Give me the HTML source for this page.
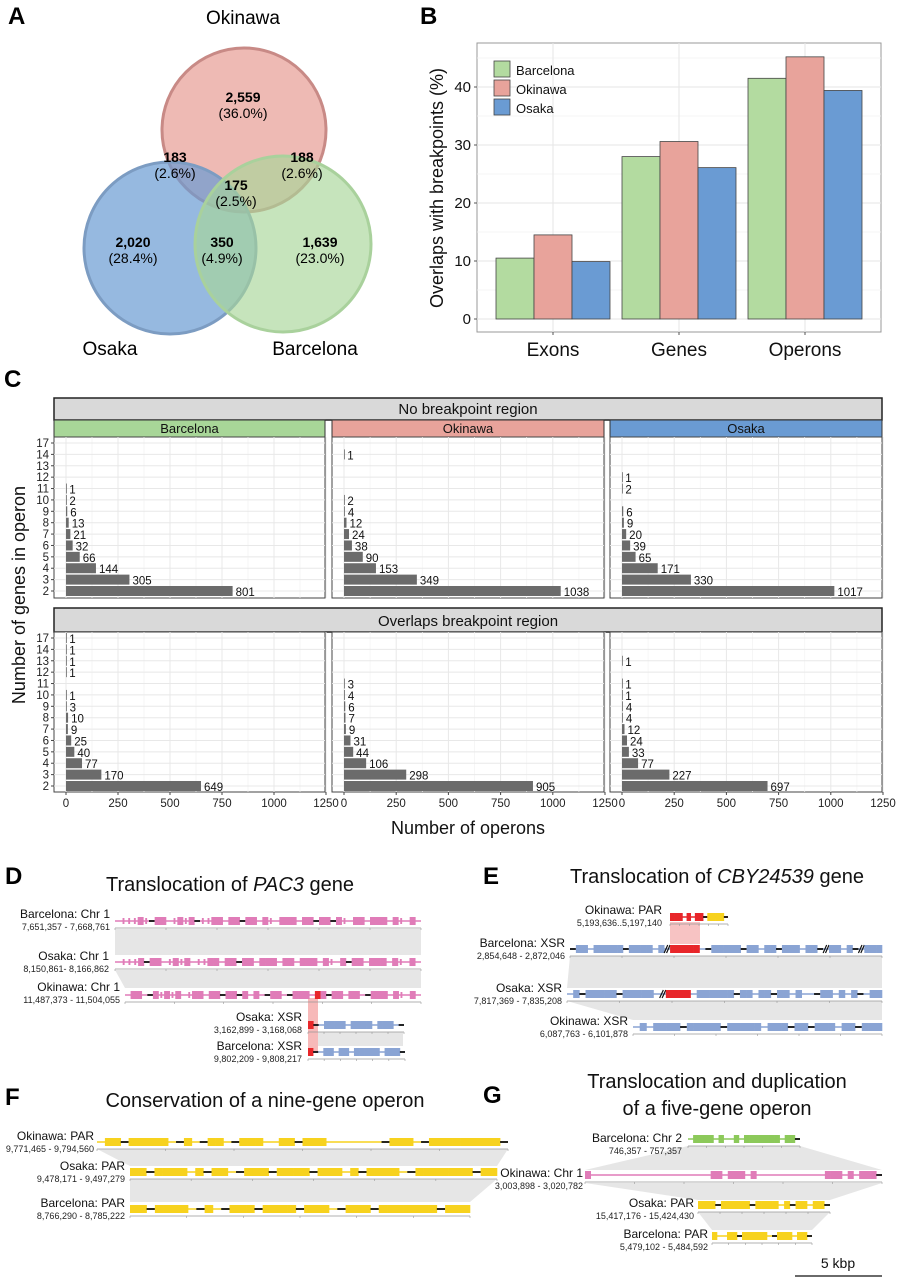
<!DOCTYPE html>
<html><head><meta charset="utf-8"><style>
body{margin:0;background:#fff}
svg{display:block;font-family:"Liberation Sans",Arial,sans-serif}
</style></head><body>
<svg id="fig" width="897" height="1280" viewBox="0 0 897 1280" xmlns="http://www.w3.org/2000/svg">
<!-- Panel A -->
<g>
<text x="8" y="24" font-size="24" font-weight="bold">A</text>
<circle cx="244" cy="130" r="82" fill="#e8a39b" fill-opacity="0.75" stroke="#c88a86" stroke-width="3"/>
<circle cx="170" cy="248" r="86" fill="#6a9bd3" fill-opacity="0.7" stroke="#7c9cc2" stroke-width="3"/>
<circle cx="283" cy="244" r="88" fill="#a8d698" fill-opacity="0.65" stroke="#a9d19c" stroke-width="3"/>
<text x="243" y="24" font-size="19" text-anchor="middle">Okinawa</text>
<text x="110" y="355" font-size="19" text-anchor="middle">Osaka</text>
<text x="315" y="355" font-size="19" text-anchor="middle">Barcelona</text>
<g font-size="14" text-anchor="middle">
<text x="243" y="102" font-weight="bold">2,559</text><text x="243" y="118">(36.0%)</text>
<text x="175" y="162" font-weight="bold">183</text><text x="175" y="178">(2.6%)</text>
<text x="302" y="162" font-weight="bold">188</text><text x="302" y="178">(2.6%)</text>
<text x="236" y="190" font-weight="bold">175</text><text x="236" y="206">(2.5%)</text>
<text x="133" y="247" font-weight="bold">2,020</text><text x="133" y="263">(28.4%)</text>
<text x="222" y="247" font-weight="bold">350</text><text x="222" y="263">(4.9%)</text>
<text x="320" y="247" font-weight="bold">1,639</text><text x="320" y="263">(23.0%)</text>
</g>
</g>
<text x="420" y="24" font-size="24" font-weight="bold">B</text>
<g id="pb"></g>
<text x="4" y="387" font-size="24" font-weight="bold">C</text>
<g id="pc"></g>
<g id="genomes"></g>
</svg>
<script>
const NS="http://www.w3.org/2000/svg";
function el(parent,tag,attrs,txt){const e=document.createElementNS(NS,tag);for(const k in attrs)e.setAttribute(k,attrs[k]);if(txt!==undefined)e.textContent=txt;parent.appendChild(e);return e;}

// ---------- Panel B data ----------
const bCategories=["Exons","Genes","Operons"];
const bSeries=["Barcelona","Okinawa","Osaka"];
const bBarcelona=[10.5,28.0,41.5];
const bOkinawa=[14.5,30.6,45.2];
const bOsaka=[9.9,26.1,39.4];
const bTicks=[0,10,20,30,40];
const bColors=["#b3dba0","#e8a39b","#6a9bd3"];

(function(){
 const g=document.getElementById('pb');
 const L=477,R=881,T=43,B=332,y0=319,pxPer=5.8;
 const y=v=>y0-v*pxPer;
 const cx=i=>553+i*126;
 el(g,'rect',{x:L,y:T,width:R-L,height:B-T,fill:'#fff',stroke:'#999','stroke-width':1});
 [5,15,25,35,45].forEach(v=>el(g,'line',{x1:L,x2:R,y1:y(v),y2:y(v),stroke:'#f0f0f0','stroke-width':0.7}));
 bTicks.forEach(v=>{el(g,'line',{x1:L,x2:R,y1:y(v),y2:y(v),stroke:'#e6e6e6','stroke-width':1});
  el(g,'line',{x1:L-3,x2:L,y1:y(v),y2:y(v),stroke:'#555'});
  const t=el(g,'text',{x:L-6,y:y(v)+5,'font-size':15,'text-anchor':'end',fill:'#111'},v);
  });
 bCategories.forEach((c,i)=>{el(g,'line',{x1:cx(i),x2:cx(i),y1:T,y2:B,stroke:'#e6e6e6'});
  el(g,'line',{x1:cx(i),x2:cx(i),y1:B,y2:B+3,stroke:'#555'});
  const t=el(g,'text',{x:cx(i),y:B+24,'font-size':19,'text-anchor':'middle',fill:'#111'},c);
  });
 const series=[bBarcelona,bOkinawa,bOsaka];const bw=38;
 series.forEach((s,si)=>s.forEach((v,i)=>{
  const r=el(g,'rect',{x:cx(i)-57+si*bw,y:y(v),width:bw,height:y0-y(v),fill:bColors[si],stroke:'#444','stroke-width':0.8});
  
  }));
 bSeries.forEach((s,si)=>{
  const r=el(g,'rect',{x:494,y:61+si*19,width:16,height:16,fill:bColors[si],stroke:'#444','stroke-width':0.8});
  
  const t=el(g,'text',{x:516,y:75+si*19,'font-size':13,fill:'#111'},s);
  });
 const yt=el(g,'text',{x:0,y:0,'font-size':18,'text-anchor':'middle',fill:'#111',transform:'translate(443,188) rotate(-90)'},'Overlaps with breakpoints (%)');
 
})();

// ---------- Panel C data ----------
const cCategories=[17,14,13,12,11,10,9,8,7,6,5,4,3,2];
const cNoBpBarcelona=[0,0,0,0,1,2,6,13,21,32,66,144,305,801];
const cNoBpOkinawa=[0,1,0,0,0,2,4,12,24,38,90,153,349,1038];
const cNoBpOsaka=[0,0,0,1,2,0,6,9,20,39,65,171,330,1017];
const cBpBarcelona=[1,1,1,1,0,1,3,10,9,25,40,77,170,649];
const cBpOkinawa=[0,0,0,0,3,4,6,7,9,31,44,106,298,905];
const cBpOsaka=[0,0,1,0,1,1,4,4,12,24,33,77,227,697];
const cTicks=[0,250,500,750,1000,1250];
const cFacets=["Barcelona","Okinawa","Osaka"];
const cFacetColors=["#a8d698","#e8a39b","#6a9bd3"];

(function(){
 const g=document.getElementById('pc');
 const panelsX=[[54,325],[332,604],[610,882]];
 const rows=[{title:'No breakpoint region',top:398,stripB:420,sub:437,bot:598,y17:443,y2:591,data:[cNoBpBarcelona,cNoBpOkinawa,cNoBpOsaka]},
             {title:'Overlaps breakpoint region',top:608,stripB:632,sub:null,bot:792,y17:638,y2:786,data:[cBpBarcelona,cBpOkinawa,cBpOsaka]}];
 rows.forEach((rw,ri)=>{
  const hdr=el(g,'rect',{x:54,y:rw.top,width:828,height:rw.stripB-rw.top,fill:'#d9d9d9',stroke:'#222','stroke-width':1.5});
  
  el(g,'text',{x:468,y:rw.stripB-6,'font-size':15,'text-anchor':'middle',fill:'#111'},rw.title);
  const pTop=rw.sub?rw.sub:rw.stripB;
  const step=(rw.y2-rw.y17)/(cCategories.length-1);
  const yc=i=>rw.y17+i*step;
  panelsX.forEach(([x1,x2],pi)=>{
   const xs=v=>66+v*(x2-x1-11)/1250+(x1-54);
   if(rw.sub){const s=el(g,'rect',{x:x1,y:rw.stripB,width:x2-x1,height:rw.sub-rw.stripB,fill:cFacetColors[pi],stroke:'#333','stroke-width':1});
    
    el(g,'text',{x:(x1+x2)/2,y:rw.sub-4,'font-size':13,'text-anchor':'middle',fill:'#111'},cFacets[pi]);}
   el(g,'rect',{x:x1,y:pTop,width:x2-x1,height:rw.bot-pTop,fill:'#fff',stroke:'#444','stroke-width':1});
   cTicks.forEach(t=>{el(g,'line',{x1:xs(t),x2:xs(t),y1:pTop,y2:rw.bot,stroke:'#e8e8e8','stroke-width':1});
     el(g,'line',{x1:xs(t+125),x2:xs(t+125),y1:pTop,y2:rw.bot,stroke:'#f3f3f3','stroke-width':0.7});});
   cCategories.forEach((c,i)=>el(g,'line',{x1:x1,x2:x2,y1:yc(i),y2:yc(i),stroke:'#e8e8e8','stroke-width':1}));
   rw.data[pi].forEach((v,i)=>{
    if(v<=0)return;
    const b=el(g,'rect',{x:xs(0),y:yc(i)-5,width:Math.max(v*(x2-x1-11)/1250,0.8),height:10,fill:'#6b6b6b'});
    
    
    el(g,'text',{x:xs(v)+3,y:yc(i)+5,'font-size':11.5,fill:'#111'},v);
   });
   if(ri===1)cTicks.forEach(t=>{el(g,'line',{x1:xs(t),x2:xs(t),y1:rw.bot,y2:rw.bot+3,stroke:'#444'});
     const tl=el(g,'text',{x:xs(t),y:rw.bot+15,'font-size':11.5,'text-anchor':'middle',fill:'#222'},t);
     });
  });
  cCategories.forEach((c,i)=>{el(g,'line',{x1:51,x2:54,y1:yc(i),y2:yc(i),stroke:'#444'});
   const tl=el(g,'text',{x:49,y:yc(i)+4,'font-size':11.5,'text-anchor':'end',fill:'#222'},c);
   });
 });
 const xt=el(g,'text',{x:468,y:834,'font-size':18,'text-anchor':'middle',fill:'#111'},'Number of operons');
 
 const yt=el(g,'text',{x:0,y:0,'font-size':18,'text-anchor':'middle',fill:'#111',transform:'translate(25,595) rotate(-90)'},'Number of genes in operon');
 
})();

// ---------- Panels D-G: synteny tracks ----------
(function(){
 const g=document.getElementById('genomes');
 const PINK='#e07cb8',BLUE='#8aa4d4',GOLD='#f7d21e',GREEN='#8cc95a',RED='#e8262a';
 function band(pts,fill,op){el(g,'polygon',{points:pts,fill:fill,'fill-opacity':op||1});}
 function track(x1,x2,y,color,pat,name){
  const n=pat.length,w=(x2-x1)/n;
  el(g,'line',{x1:x1,x2:x2,y1:y+7,y2:y+7,stroke:'#999','stroke-width':0.8});
  for(let i=0;i<=6;i++)el(g,'line',{x1:x1+i*(x2-x1)/6,x2:x1+i*(x2-x1)/6,y1:y+7,y2:y+9,stroke:'#999','stroke-width':0.6});
  el(g,'line',{x1:x1,x2:x2,y1:y,y2:y,stroke:color,'stroke-width':1.5});
  for(let i=0;i<n;i++){const ch=pat[i],x=x1+i*w;
   if(ch==='-')el(g,'line',{x1:x,x2:x+w,y1:y,y2:y,stroke:'#111','stroke-width':1.8});
   else if(ch==='#')el(g,'rect',{x:x,y:y-4,width:w+0.3,height:8,fill:color});
   else if(ch==='r')el(g,'rect',{x:x,y:y-4,width:w+0.3,height:8,fill:RED});
   else if(ch==='y')el(g,'rect',{x:x,y:y-4,width:w+0.3,height:8,fill:GOLD});
   else if(ch==='|')el(g,'rect',{x:x+w/3,y:y-3,width:Math.max(w/3,1),height:6,fill:color});
   else if(ch==='/'){el(g,'line',{x1:x,x2:x+w*0.6,y1:y+4,y2:y-4,stroke:'#111','stroke-width':1.2});el(g,'line',{x1:x+w*0.4,x2:x+w,y1:y+4,y2:y-4,stroke:'#111','stroke-width':1.2});}
  }
  const t=g.lastChild;
 }
 function lab(x,y,name,coords,anchor){
  const t=el(g,'text',{x:x,y:y,'font-size':12,'text-anchor':anchor||'end',fill:'#111'},name);
  
  el(g,'text',{x:x,y:y+12,'font-size':9,'text-anchor':anchor||'end',fill:'#222'},coords);
 }
 function title(x,y,parts){const t=el(g,'text',{x:x,y:y,'font-size':20,'text-anchor':'middle',fill:'#111'});
  parts.forEach(p=>{const s=el(t,'tspan',p[1]?{'font-style':'italic'}:{},p[0]);});
  }
 function letter(x,y,c){const t=el(g,'text',{x:x,y:y,'font-size':24,'font-weight':'bold'},c);}

 // D
 letter(5,884,'D');title(230,891,[['Translocation of '],['PAC3',1],[' gene']]);
 band('115,929 421,929 421,955 115,955','#e6e6e6');
 band('115,970 421,970 421,988 125,988','#e6e6e6');
 band('318,1032 403,1032 403,1046 318,1046','#e6e6e6');
 band('308,998 318,998 318,1052 308,1052','#f5a8a8',0.8);
 track(115,421,921,PINK,'.|||#|-##.|#|#-||##.##-##.#|.###.##-##-#|.##.###.#|.#.','track-barcelona-chr1');
 track(115,421,962,PINK,'.|||#-##.|#|#.||##.##-##.###.##.###.#|.#-##.###.#|.#.','track-osaka-chr1');
 track(125,421,995,PINK,'.##.-#|#|#.|##.##-##-#.#.-##.-###.r#-##.##.-###.#|.#.','track-okinawa-chr1');
 track(308,404,1025,BLUE,'r-.####.####.###.-','track-osaka-xsr');
 track(308,405,1052,BLUE,'r-.##.##.#####.###-','track-barcelona-xsr');
 lab(110,918,'Barcelona: Chr 1','7,651,357 - 7,668,761');
 lab(109,960,'Osaka: Chr 1','8,150,861- 8,166,862');
 lab(120,991,'Okinawa: Chr 1','11,487,373 - 11,504,055');
 lab(302,1021,'Osaka: XSR','3,162,899 - 3,168,068');
 lab(302,1050,'Barcelona: XSR','9,802,209 - 9,808,217');

 // F
 letter(5,1105,'F');title(265,1107,[['Conservation of a nine-gene operon']]);
 band('97,1149 508,1149 497,1166 130,1166','#e6e6e6');
 band('130,1179 497,1179 470,1202 130,1202','#e6e6e6');
 track(97,508,1142,GOLD,'.##-#####.-#.-##.-###..##-###.......-###.-#########-','track-okinawa-par');
 track(130,497,1172,GOLD,'##-####.#-##.-###-####-###.#-####.-#######-##','track-osaka-par');
 track(130,470,1209,GOLD,'##-####.-#.-###-####-###.-###-#######-###','track-barcelona-par');
 lab(94,1140,'Okinawa: PAR','9,771,465 - 9,794,560');
 lab(125,1170,'Osaka: PAR','9,478,171 - 9,497,279');
 lab(125,1207,'Barcelona: PAR','8,766,290 - 8,785,222');

 // E
 letter(483,884,'E');title(717,883,[['Translocation of '],['CBY24539',1],[' gene']]);
 band('670,922 700,922 700,944 670,944','#f5b4b4',0.8);
 band('670,956 700,956 690,988 660,988','#f5b4b4',0.7);
 band('570,956 882,956 882,988 567,988','#e6e6e6');
 band('567,1001 882,1001 882,1020 633,1020','#e6e6e6');
 track(670,728,917,RED,'###.#.##-yyyy-','track-okinawa-par-e');
 track(570,882,949,BLUE,'-##.#####-####.#/rrrrr.-#####-##.##-###.##-/##.#-/###','track-barcelona-xsr-e');
 track(567,882,994,BLUE,'.#-#####-#####./rrrr.######-##.##-##.#..-##.#.#-.##','track-osaka-xsr-e');
 track(633,882,1027,BLUE,'.#.####-#####-#####.###-##-###.##-###','track-okinawa-xsr-e');
 lab(662,914,'Okinawa: PAR','5,193,636..5,197,140');
 lab(565,947,'Barcelona: XSR','2,854,648 - 2,872,046');
 lab(562,992,'Osaka: XSR','7,817,369 - 7,835,208');
 lab(628,1025,'Okinawa: XSR','6,087,763 - 6,101,878');

 // G
 letter(483,1103,'G');title(717,1088,[['Translocation and duplication']]);title(717,1115,[['of a five-gene operon']]);
 band('688,1146 800,1146 882,1170 585,1170','#e6e6e6');
 band('585,1183 882,1183 830,1200 698,1200','#e6e6e6');
 band('698,1212 830,1212 812,1230 712,1230','#e6e6e6');
 track(688,800,1139,GREEN,'.####.#..#.#######.##-','track-barcelona-chr2');
 track(585,882,1175,PINK,'#.....................##.###.#............###.#.###-','track-okinawa-chr1-g');
 track(698,830,1205,GOLD,'###-#####-####.#-##.##-','track-osaka-par-g');
 track(712,812,1236,GOLD,'#..##-#####.-###.##-','track-barcelona-par-g');
 lab(682,1142,'Barcelona: Chr 2','746,357 - 757,357');
 lab(583,1177,'Okinawa: Chr 1','3,003,898 - 3,020,782');
 lab(694,1207,'Osaka: PAR','15,417,176 - 15,424,430');
 lab(708,1238,'Barcelona: PAR','5,479,102 - 5,484,592');
 const sb=el(g,'line',{x1:795,x2:882,y1:1276,y2:1276,stroke:'#111','stroke-width':1.2});
 
 el(g,'text',{x:838,y:1268,'font-size':14,'text-anchor':'middle',fill:'#111'},'5 kbp');
})();
</script>
</body></html>
